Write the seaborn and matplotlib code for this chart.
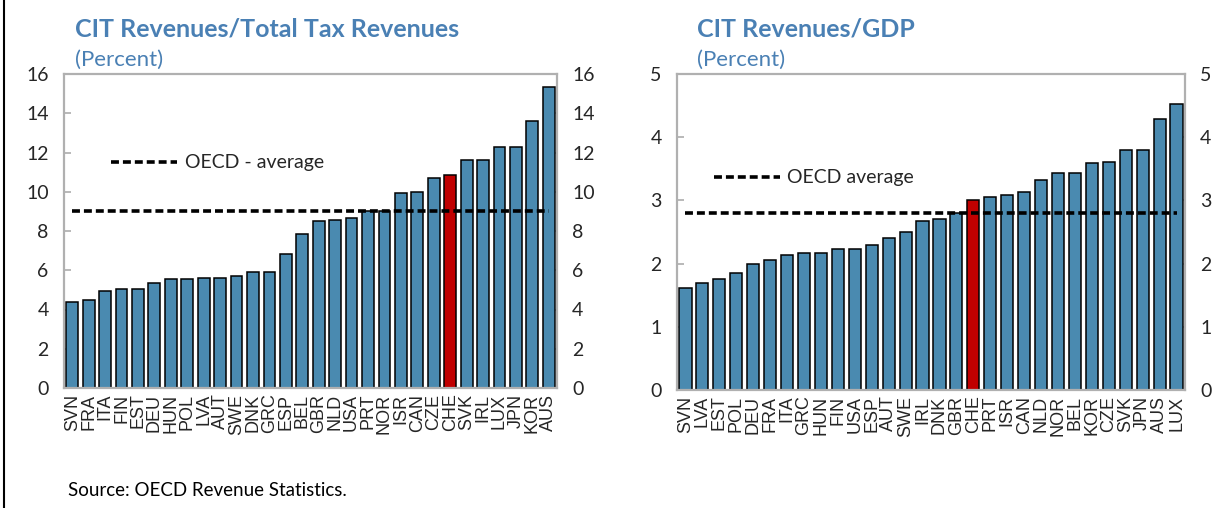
import numpy as np
import pandas as pd
import matplotlib
matplotlib.use('Agg')
import matplotlib.pyplot as plt
from matplotlib.lines import Line2D
import seaborn as sns

sns.set_theme(style="white")
plt.rcParams['font.family'] = ['Lato', 'DejaVu Sans']

# ── Data ────────────────────────────────────────────────────
tax_countries = ["SVN", "FRA", "ITA", "FIN", "EST", "DEU", "HUN", "POL", "LVA", "AUT",
                 "SWE", "DNK", "GRC", "ESP", "BEL", "GBR", "NLD", "USA", "PRT", "NOR",
                 "ISR", "CAN", "CZE", "CHE", "SVK", "IRL", "LUX", "JPN", "KOR", "AUS"]
tax_values = [4.4, 4.47, 4.95, 5.05, 5.05, 5.33, 5.54, 5.54, 5.62, 5.62,
              5.71, 5.92, 5.92, 6.85, 7.83, 8.49, 8.57, 8.66, 9.0, 9.03,
              9.92, 10.0, 10.68, 10.87, 11.6, 11.6, 12.27, 12.27, 13.6, 15.35]
tax_oecd_avg = 9.0

gdp_countries = ["SVN", "LVA", "EST", "POL", "DEU", "FRA", "ITA", "GRC", "HUN", "FIN",
                 "USA", "ESP", "AUT", "SWE", "IRL", "DNK", "GBR", "CHE", "PRT", "ISR",
                 "CAN", "NLD", "NOR", "BEL", "KOR", "CZE", "SVK", "JPN", "AUS", "LUX"]
gdp_values = [1.61, 1.70, 1.76, 1.85, 1.99, 2.05, 2.14, 2.17, 2.17, 2.23,
              2.23, 2.29, 2.41, 2.50, 2.67, 2.70, 2.80, 3.0, 3.05, 3.08,
              3.14, 3.32, 3.44, 3.44, 3.59, 3.61, 3.79, 3.79, 4.29, 4.53]
gdp_oecd_avg = 2.8

highlight = "CHE"
BLUE = "#4A8AB0"
RED = "#C00000"
TXT_BLUE = "#4A80B4"
GRAY = "#B0B0B0"

fig = plt.figure(figsize=(12.31, 5.08), dpi=100)


def panel(rect, names, vals, avg, ymax, step, title, title_x, leg_label, leg_pos):
    ax = fig.add_axes(rect)
    df = pd.DataFrame({"country": names, "value": vals})
    colors = [RED if c == highlight else BLUE for c in names]
    sns.barplot(data=df, x="country", y="value", hue="country", palette=colors,
                legend=False, width=0.72, edgecolor="black", linewidth=1.1,
                saturation=1, ax=ax)
    xs = np.arange(len(names))
    sns.lineplot(x=xs, y=np.full(len(names), avg), color="black", lw=2.6,
                 dashes=False, ax=ax)
    ax.lines[-1].set_dashes((2.2, 1.1))
    ax.set_xlim(-0.5, len(names) - 0.5)
    ax.set_ylim(0, ymax)
    ticks = np.arange(0, ymax + step / 2, step)
    ax.set_yticks(ticks)
    ax.set_yticklabels([f"{t:g}" for t in ticks])
    ax.set_xlabel(""); ax.set_ylabel("")
    ax.tick_params(axis="y", which="both", direction="in", length=5, color=GRAY,
                   labelsize=14, pad=11, left=True, right=True,
                   labelleft=True, labelright=True)
    ax.tick_params(axis="x", length=0, labelsize=13, rotation=90, pad=4)
    ax.set_xticks(xs + 0.5, minor=True)
    ax.tick_params(axis="x", which="minor", direction="in", length=4, color=GRAY)
    for s in ax.spines.values():
        s.set_color(GRAY); s.set_linewidth(1.6)
    for lab in ax.get_xticklabels():
        lab.set_fontfamily(["Liberation Sans", "DejaVu Sans"])
    h = Line2D([], [], color="black", lw=2.6, dashes=(2.2, 1.1))
    ax.legend([h], [leg_label], loc="center left", bbox_to_anchor=leg_pos,
              frameon=False, fontsize=14, handlelength=3.4, handletextpad=0.4,
              borderpad=0, borderaxespad=0)
    ax.text(title_x, 1.142, title, transform=ax.transAxes, fontsize=18,
            fontweight="bold", color=TXT_BLUE, va="center")
    ax.text(title_x, 1.045, "(Percent)", transform=ax.transAxes, fontsize=16,
            color=TXT_BLUE, va="center")
    return ax


panel([64 / 1231, 1 - 388 / 508, 493 / 1231, 314 / 508], tax_countries, tax_values,
      tax_oecd_avg, 16, 2, "CIT Revenues/Total Tax Revenues", 0.022,
      "OECD - average", (0.095, 0.717))
panel([677 / 1231, 1 - 390 / 508, 508 / 1231, 316 / 508], gdp_countries, gdp_values,
      gdp_oecd_avg, 5, 1, "CIT Revenues/GDP", 0.039, "OECD average",
      (0.072, 0.671))

fig.text(68 / 1231, 1 - 490 / 508, "Source: OECD Revenue Statistics.", fontsize=13.5,
         va="center", color="black")
fig.add_artist(Line2D([4 / 1231, 4 / 1231], [0, 1], color="black", lw=1.5,
                      transform=fig.transFigure))

fig.savefig("out.png", dpi=100)
